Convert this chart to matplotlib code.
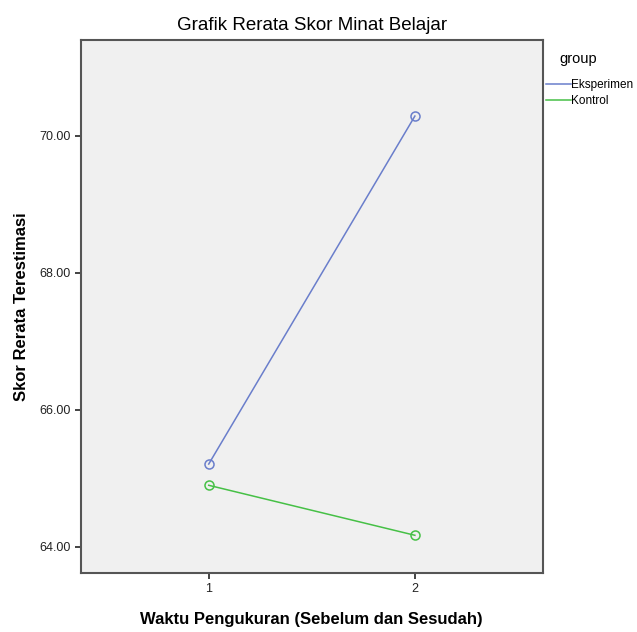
import matplotlib
matplotlib.use('Agg')
import matplotlib.pyplot as plt
from matplotlib.ticker import FormatStrFormatter

plt.rcParams['font.family'] = ['Liberation Sans', 'DejaVu Sans']

# data
waktu = [1, 2]
groups = ['Eksperimen', 'Kontrol']
eksperimen = [65.21, 70.29]
kontrol = [64.90, 64.17]
colors = ['#6a7ecb', '#46c046']

fig = plt.figure(figsize=(6.37, 6.32), dpi=100)
ax = fig.add_axes([0.127, 0.0934, 0.725, 0.8433])
ax.set_facecolor('#f0f0f0')

for vals, name, col in zip([eksperimen, kontrol], groups, colors):
    ax.plot(waktu, vals, color=col, lw=1.1, marker='o', ms=6.5,
            mfc='none', mec=col, mew=1.1, label=name)

ax.set_xlim(0.38, 2.62)
ax.set_ylim(63.62, 71.40)
ax.set_xticks(waktu)
ax.set_yticks([64, 66, 68, 70])
ax.yaxis.set_major_formatter(FormatStrFormatter('%.2f'))
ax.tick_params(labelsize=9, colors='#222222', length=4, width=1.2, direction='out')

for s in ax.spines.values():
    s.set_color('#555555')
    s.set_linewidth(1.5)

ax.set_title('Grafik Rerata Skor Minat Belajar', fontsize=13.5, pad=7)
ax.set_xlabel('Waktu Pengukuran (Sebelum dan Sesudah)', fontsize=12, fontweight='bold', labelpad=12)
ax.set_ylabel('Skor Rerata Terestimasi', fontsize=12, fontweight='bold', labelpad=7)

leg = ax.legend(loc='upper left', bbox_to_anchor=(0.997, 0.986), frameon=False,
                title='group', fontsize=8.5, title_fontsize=10.5,
                handlelength=2.1, handletextpad=0.05, borderaxespad=0.0,
                labelspacing=0.4)
for h in leg.legend_handles:
    h.set_marker('')
leg._legend_box.align = 'left'
leg._legend_box.sep = 9
leg.get_title().set_position((13, 0))

fig.savefig('out.png', dpi=100)
